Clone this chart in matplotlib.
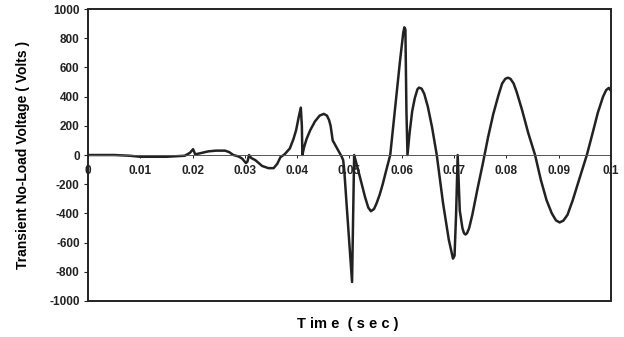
"""
Transient no-load voltage over the first 0.1 s after switching.
"""

import matplotlib

matplotlib.use("Agg")
import matplotlib.pyplot as plt
from matplotlib.patches import Rectangle

# time (s) and voltage (V) samples of the transient
time_s = [
    0.0, 0.005, 0.008, 0.010, 0.015, 0.0185, 0.0195, 0.0201, 0.0205, 0.0212,
    0.023, 0.0245, 0.0262, 0.027, 0.0278, 0.0288, 0.0295, 0.0302, 0.0305, 0.0308,
    0.0312, 0.032, 0.0333, 0.0345, 0.0355, 0.0362, 0.0368, 0.0376, 0.0386, 0.0393,
    0.0398, 0.0403, 0.0407, 0.0409, 0.0410, 0.0413, 0.0418, 0.0425, 0.0434, 0.0443,
    0.0451, 0.0457, 0.0461, 0.0464, 0.0468, 0.0478, 0.0485, 0.0488, 0.0490, 0.0495,
    0.0505, 0.0509, 0.0512, 0.052, 0.053, 0.0536, 0.0541, 0.0547, 0.0552, 0.0558,
    0.0564, 0.057, 0.0574, 0.0578, 0.0587, 0.0597, 0.0603, 0.0605, 0.0607, 0.0609,
    0.0611, 0.0615, 0.062, 0.0625, 0.063, 0.0633, 0.0638, 0.0643, 0.065, 0.0658,
    0.0667, 0.0679, 0.069, 0.0698, 0.0701, 0.0704, 0.0707, 0.0711, 0.0716, 0.0719,
    0.0722, 0.0725, 0.0729, 0.0735, 0.0745, 0.0755, 0.0765, 0.0775, 0.0785, 0.0792,
    0.0798, 0.0803, 0.0808, 0.0814, 0.082, 0.083, 0.0842, 0.0855, 0.0866, 0.0877,
    0.0887, 0.0895, 0.0902, 0.0909, 0.0917, 0.0927, 0.094, 0.0954, 0.0965, 0.0975,
    0.0985, 0.0991, 0.0996, 0.1,
]
voltage_v = [
    0, 0, -5, -12, -12, -5, 15, 40, 5, 10,
    25, 30, 30, 20, 0, -10, -25, -55, -45, 0,
    -20, -35, -75, -90, -90, -60, -15, 5, 45, 110,
    170, 260, 325, 200, 0, 50, 110, 170, 230, 270,
    282, 270, 240, 200, 100, 35, -10, -35, -100, -360,
    -870, 0, -40, -150, -290, -360, -385, -370, -330, -270,
    -195, -110, -55, 0, 310, 655, 840, 875, 860, 300,
    0, 150, 300, 390, 450, 462, 455, 420, 330, 190,
    0, -330, -580, -710, -690, -400, 0, -380, -500, -535,
    -545, -535, -500, -410, -230, -60, 120, 280, 410, 490,
    522, 530, 522, 490, 430, 310, 150, 0, -170, -310,
    -400, -448, -462, -450, -410, -310, -160, 0, 150, 290,
    400, 445, 460, 440,
]

xticks = [0, 0.01, 0.02, 0.03, 0.04, 0.05, 0.06, 0.07, 0.08, 0.09, 0.1]
xtick_labels = ["0", "0.01", "0.02", "0.03", "0.04", "0.05", "0.06", "0.07", "0.08", "0.09", "0.1"]
yticks = list(range(-1000, 1001, 200))

plt.rcParams["font.family"] = ["Liberation Sans", "DejaVu Sans"]
plt.rcParams["font.weight"] = "bold"
plt.rcParams["axes.unicode_minus"] = False

fig = plt.figure(figsize=(6.24, 3.37), dpi=100)
ax = fig.add_axes([0.141, 0.107, 0.838, 0.866])

ax.plot(time_s, voltage_v, color="#222222", lw=1.8, solid_joinstyle="round")

ax.set_xlim(0, 0.1)
ax.set_ylim(-1000, 1000)

# time axis crosses at 0 V; the box is drawn separately
for s in ("top", "right", "left"):
    ax.spines[s].set_visible(False)
ax.spines["bottom"].set_position(("data", 0))
ax.spines["bottom"].set_linewidth(0.7)
ax.spines["bottom"].set_color("#555555")
ax.add_patch(Rectangle((0, 0), 1, 1, transform=ax.transAxes, fill=False,
                       lw=1.4, edgecolor="#222222", clip_on=False, zorder=5))

ax.set_xticks(xticks)
ax.set_xticklabels(xtick_labels)
ax.set_yticks(yticks)
ax.set_yticklabels([str(v) for v in yticks])
ax.tick_params(axis="x", length=2, width=0.7, pad=5, labelsize=8.5, colors="#222222")
ax.tick_params(axis="y", length=3, width=0.8, pad=3, labelsize=8.5, colors="#222222")

ax.set_ylabel("Transient No-Load Voltage ( Volts )", fontsize=10, fontweight="bold", labelpad=14)
fig.text(0.558, 0.04, "T im e  ( s e c )", ha="center", va="center",
         fontsize=10.5, fontweight="bold")

fig.savefig("out.png", dpi=100)
